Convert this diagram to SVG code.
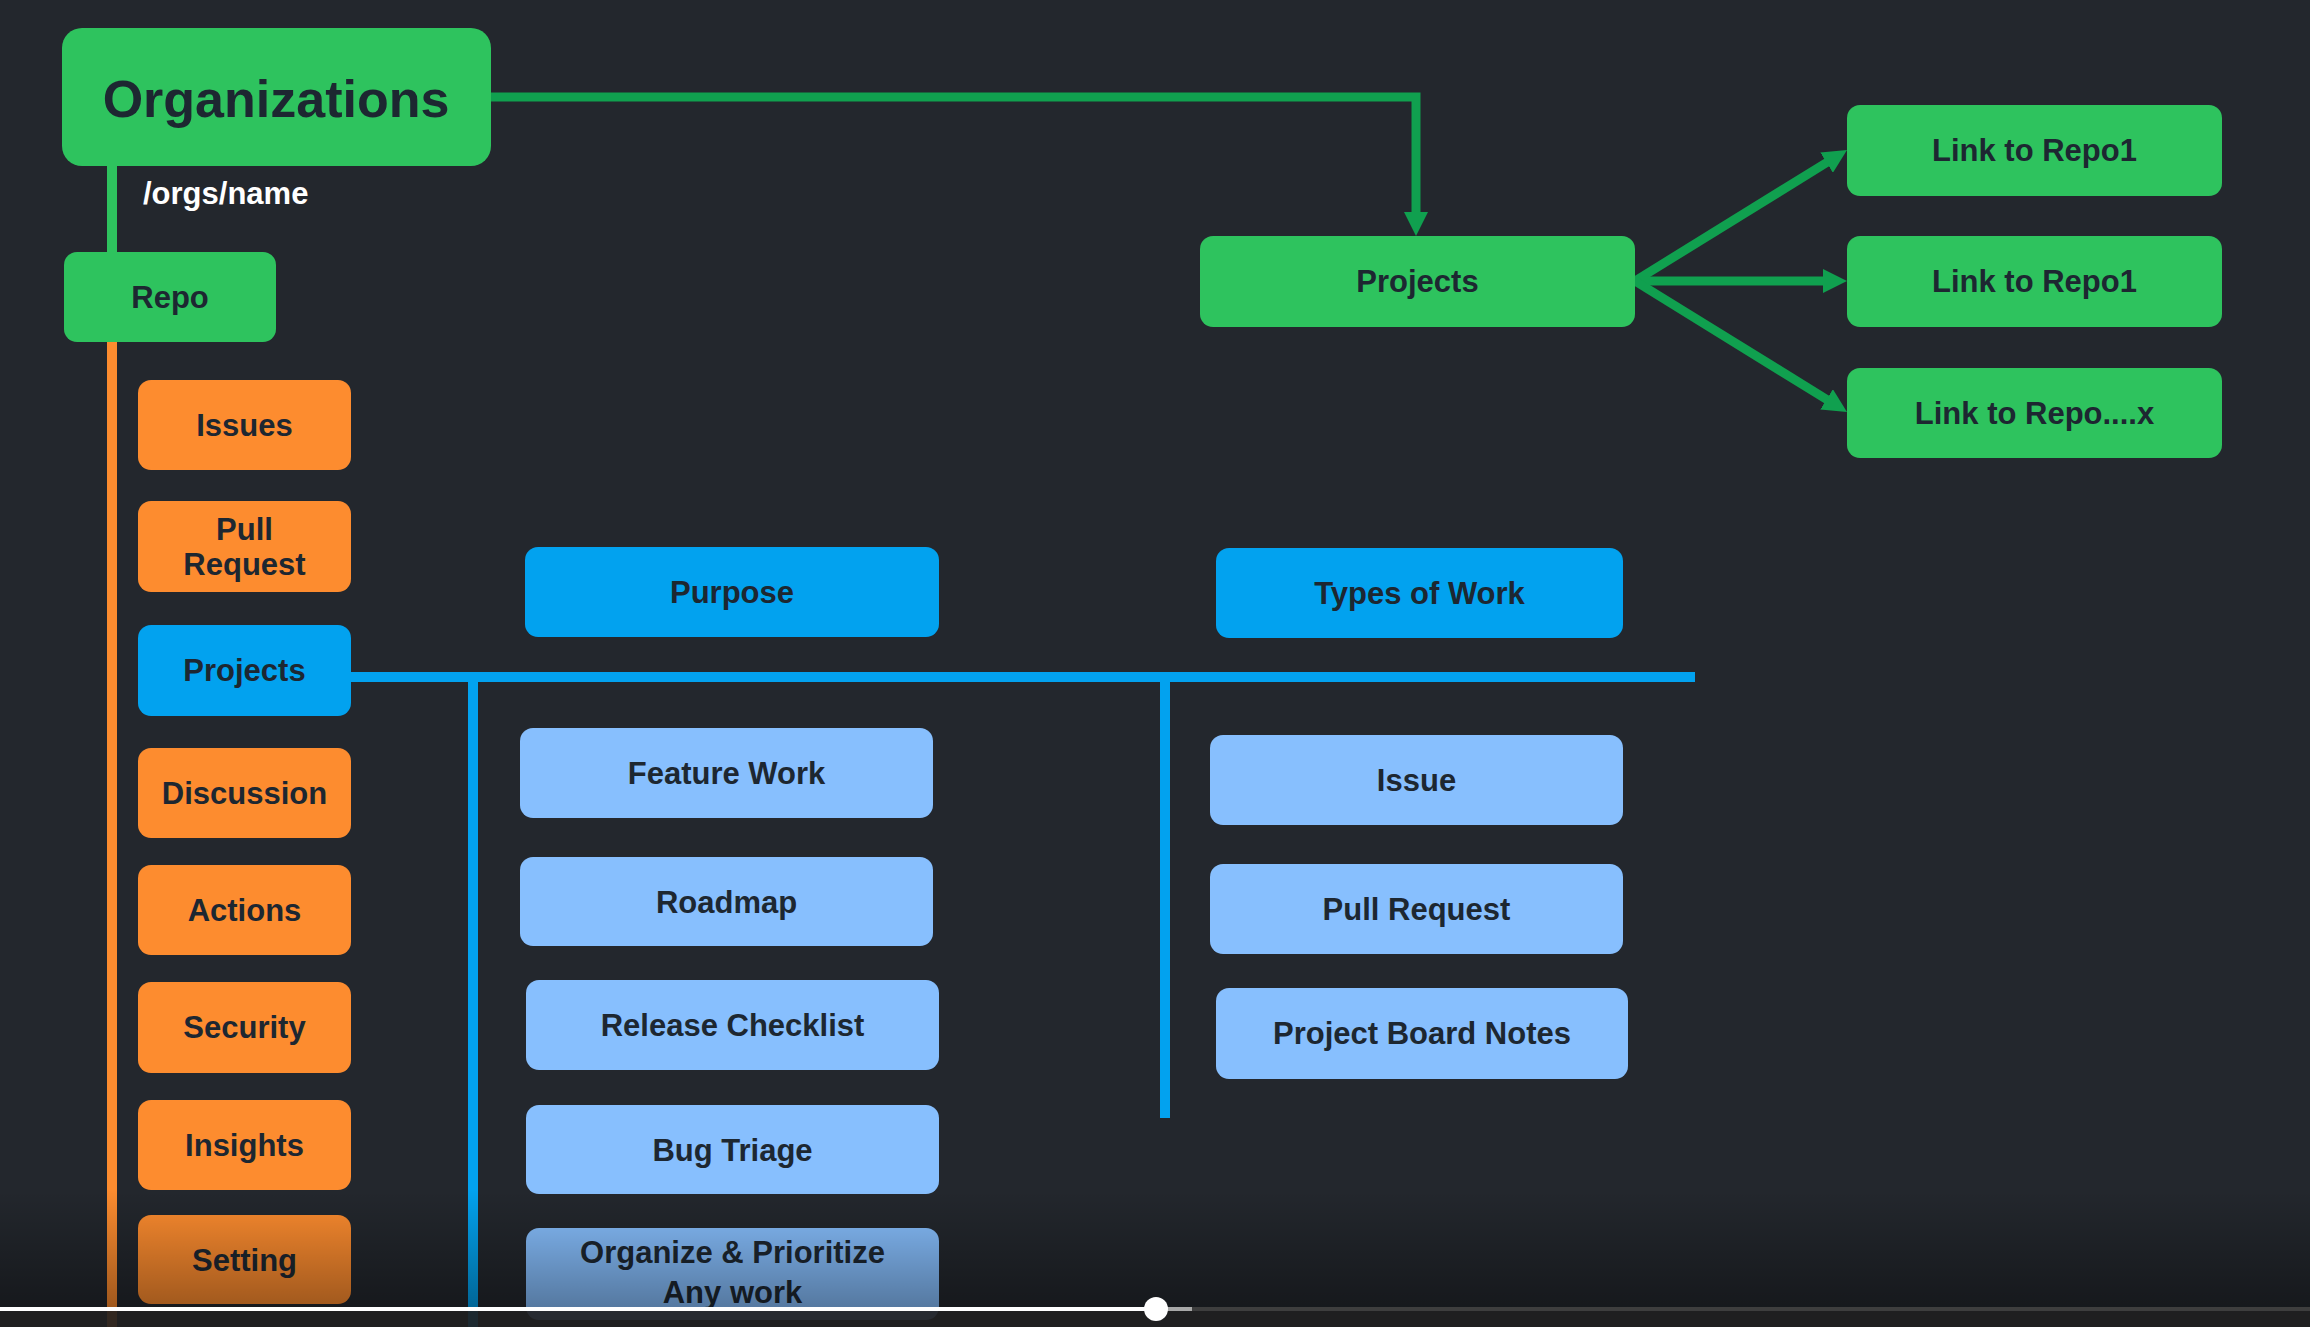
<svg xmlns="http://www.w3.org/2000/svg" width="2310" height="1327" viewBox="0 0 2310 1327">
<defs>
<style>
.t{font-family:"Liberation Sans",Arial,sans-serif;font-weight:bold;font-size:31px;fill:#1d2731;text-anchor:middle}
.g{fill:#2ec35e}
.o{fill:#fd8c2f}
.b{fill:#02a2ef}
.lb{fill:#87bffe}
.cg{fill:none;stroke:#10a04f;stroke-width:9}
</style>
<marker id="ah" markerUnits="userSpaceOnUse" markerWidth="24" markerHeight="24" refX="4" refY="12" orient="auto">
<path d="M0,0 L24,12 L0,24 z" fill="#10a04f"/>
</marker>
<linearGradient id="fade" x1="0" y1="0" x2="0" y2="1">
<stop offset="0" stop-color="#000" stop-opacity="0"/>
<stop offset="1" stop-color="#000" stop-opacity="0.38"/>
</linearGradient>
</defs>
<rect x="0" y="0" width="2310" height="1327" fill="#23272d"/>

<g id="connectors">
<rect x="107" y="160" width="10" height="96" fill="#2ec35e"/>
<rect x="107" y="338" width="10" height="989" fill="#fd8c2f"/>
<rect x="345" y="672" width="1350" height="10" fill="#02a2ef"/>
<rect x="468" y="672" width="10" height="655" fill="#02a2ef"/>
<rect x="1160" y="672" width="10" height="446" fill="#02a2ef"/>
<path class="cg" d="M488,97 H1416 V216" marker-end="url(#ah)"/>
<path class="cg" d="M1635,281 L1830,160.5" marker-end="url(#ah)"/>
<path class="cg" d="M1635,281 L1827,281" marker-end="url(#ah)"/>
<path class="cg" d="M1635,281 L1830,401.5" marker-end="url(#ah)"/>
</g>

<g id="organizations"><rect class="g" x="62" y="28" width="429" height="138" rx="20"/><text class="t" x="276" y="117" style="font-size:52px">Organizations</text></g>
<g id="orgs-path-label"><text x="143" y="204" style="font-family:'Liberation Sans',Arial,sans-serif;font-weight:bold;font-size:31px;fill:#ffffff">/orgs/name</text></g>
<g id="repo"><rect class="g" x="64" y="252" width="212" height="90" rx="13"/><text class="t" x="170" y="308">Repo</text></g>

<g id="issues"><rect class="o" x="138" y="380" width="213" height="90" rx="13"/><text class="t" x="244.5" y="436">Issues</text></g>
<g id="pull-request"><rect class="o" x="138" y="501" width="213" height="91" rx="13"/><text class="t" x="244.5" y="540">Pull</text><text class="t" x="244.5" y="575">Request</text></g>
<g id="projects-repo"><rect class="b" x="138" y="625" width="213" height="91" rx="13"/><text class="t" x="244.5" y="681">Projects</text></g>
<g id="discussion"><rect class="o" x="138" y="748" width="213" height="90" rx="13"/><text class="t" x="244.5" y="804">Discussion</text></g>
<g id="actions"><rect class="o" x="138" y="865" width="213" height="90" rx="13"/><text class="t" x="244.5" y="921">Actions</text></g>
<g id="security"><rect class="o" x="138" y="982" width="213" height="91" rx="13"/><text class="t" x="244.5" y="1038">Security</text></g>
<g id="insights"><rect class="o" x="138" y="1100" width="213" height="90" rx="13"/><text class="t" x="244.5" y="1156">Insights</text></g>
<g id="setting"><rect class="o" x="138" y="1215" width="213" height="89" rx="13"/><text class="t" x="244.5" y="1271">Setting</text></g>

<g id="purpose"><rect class="b" x="525" y="547" width="414" height="90" rx="13"/><text class="t" x="732" y="603">Purpose</text></g>
<g id="feature-work"><rect class="lb" x="520" y="728" width="413" height="90" rx="13"/><text class="t" x="726.5" y="784">Feature Work</text></g>
<g id="roadmap"><rect class="lb" x="520" y="857" width="413" height="89" rx="13"/><text class="t" x="726.5" y="913">Roadmap</text></g>
<g id="release-checklist"><rect class="lb" x="526" y="980" width="413" height="90" rx="13"/><text class="t" x="732.5" y="1036">Release Checklist</text></g>
<g id="bug-triage"><rect class="lb" x="526" y="1105" width="413" height="89" rx="13"/><text class="t" x="732.5" y="1161">Bug Triage</text></g>
<g id="organize"><rect class="lb" x="526" y="1228" width="413" height="92" rx="13"/><text class="t" x="732.5" y="1263">Organize &amp; Prioritize</text><text class="t" x="732.5" y="1303">Any work</text></g>

<g id="types-of-work"><rect class="b" x="1216" y="548" width="407" height="90" rx="13"/><text class="t" x="1419.5" y="604">Types of Work</text></g>
<g id="issue"><rect class="lb" x="1210" y="735" width="413" height="90" rx="13"/><text class="t" x="1416.5" y="791">Issue</text></g>
<g id="pull-request-type"><rect class="lb" x="1210" y="864" width="413" height="90" rx="13"/><text class="t" x="1416.5" y="920">Pull Request</text></g>
<g id="project-board-notes"><rect class="lb" x="1216" y="988" width="412" height="91" rx="13"/><text class="t" x="1422" y="1044">Project Board Notes</text></g>

<g id="projects-org"><rect class="g" x="1200" y="236" width="435" height="91" rx="13"/><text class="t" x="1417.5" y="292">Projects</text></g>
<g id="link1"><rect class="g" x="1847" y="105" width="375" height="91" rx="13"/><text class="t" x="2034.5" y="161">Link to Repo1</text></g>
<g id="link2"><rect class="g" x="1847" y="236" width="375" height="91" rx="13"/><text class="t" x="2034.5" y="292">Link to Repo1</text></g>
<g id="link3"><rect class="g" x="1847" y="368" width="375" height="90" rx="13"/><text class="t" x="2034.5" y="424">Link to Repo....x</text></g>

<g id="player-bar">
<rect x="0" y="1190" width="2310" height="121" fill="url(#fade)"/>
<rect x="0" y="1311" width="2310" height="16" fill="#1f1e1f" fill-opacity="0.92"/>
<rect x="1192" y="1307" width="1118" height="4" fill="#3e3e3e"/>
<rect x="1156" y="1307" width="36" height="4" fill="#a8a8a8"/>
<rect x="0" y="1307" width="1156" height="4" fill="#ffffff"/>
<circle cx="1156" cy="1309" r="12" fill="#ffffff"/>
</g>
</svg>
